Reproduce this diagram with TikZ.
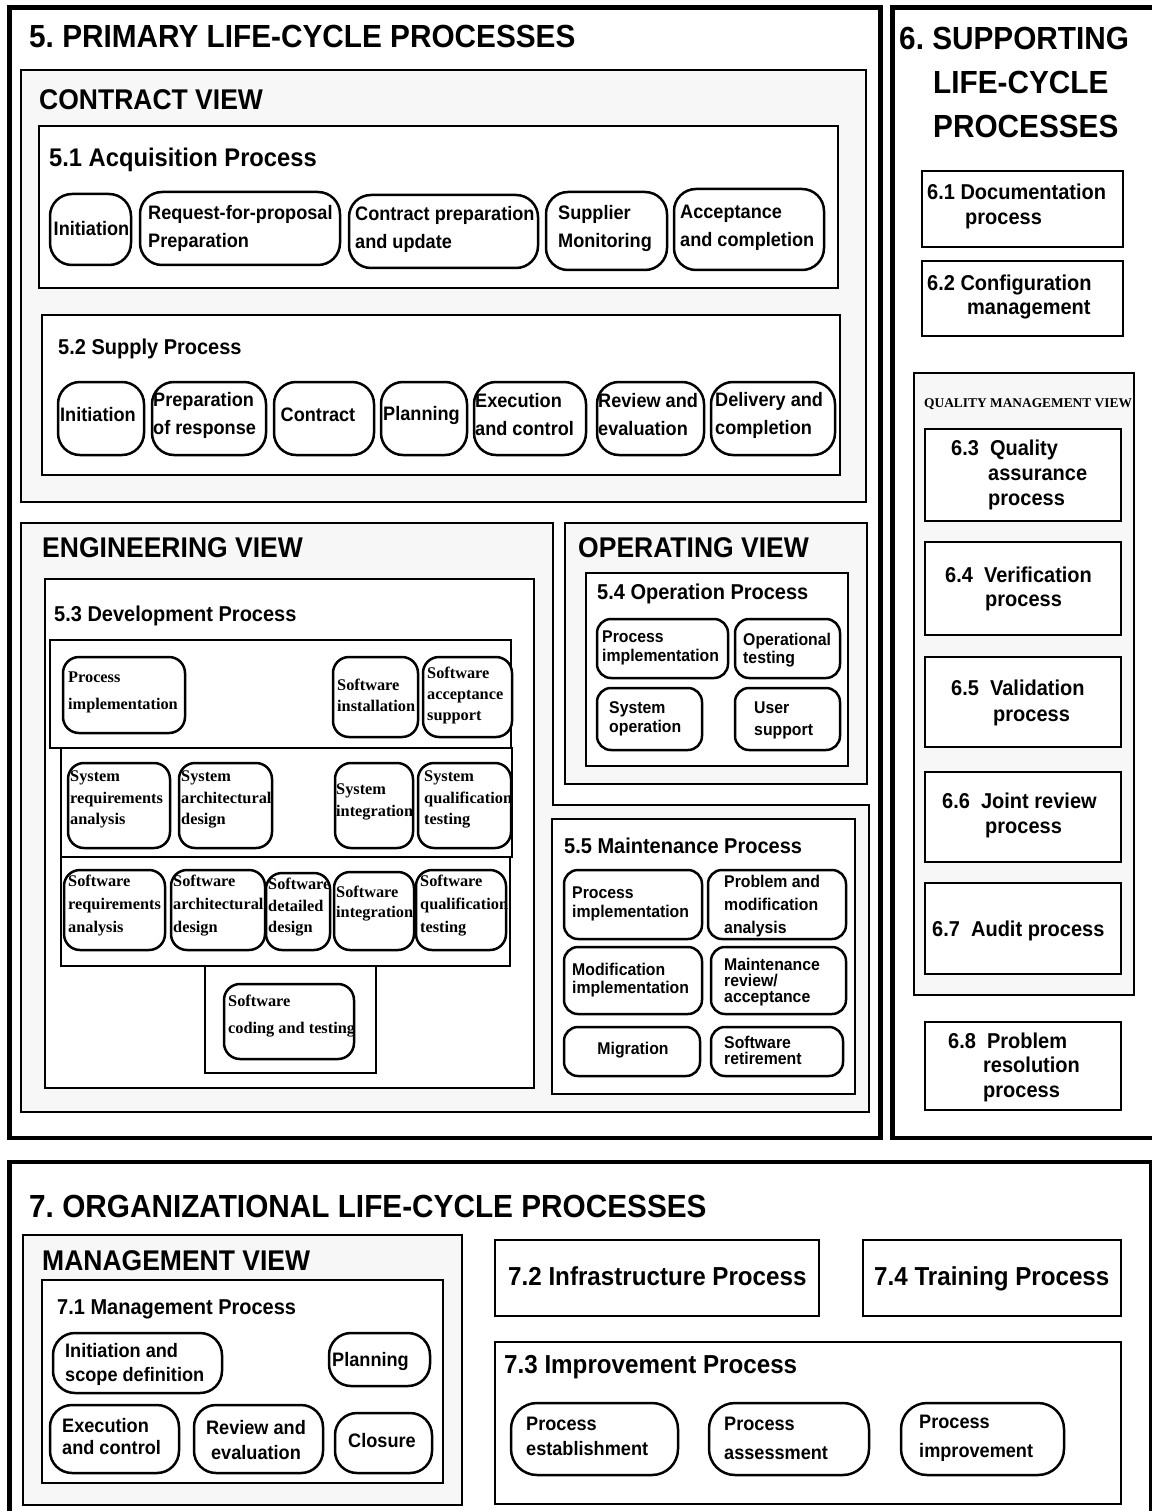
\documentclass[tikz,border=0pt]{standalone}
\usepackage{fontspec}
\newfontfamily\hvb{Liberation Sans}[FakeStretch=0.93]
\newfontfamily\tmb{Liberation Serif}
\frenchspacing
\newcommand\fsz[2]{\fontsize{#1}{#2}\selectfont}
\newcommand\BX[6]{\node[#6, inner sep=0pt, minimum width={#4-#2}, minimum height={#5-#3}] (#1) at ({(#2+#4)/2},{(#3+#5)/2}) {};}
\tikzset{
  outer/.style={draw, line width=4.5pt, fill=white},
  view/.style={draw, line width=2.5pt, fill=black!3},
  pbox/.style={draw, line width=2.5pt, fill=white},
  rbox/.style={draw, line width=2.5pt, fill=white, rounded corners=#1},
  rbox/.default=18pt,
  ttl/.style={anchor=base west, inner sep=0pt, font={\hvb\bfseries\fsz{32}{44}}},
  vtl/.style={anchor=base west, inner sep=0pt, font={\hvb\bfseries\fsz{28.5}{32}}},
  ptl/.style={anchor=base west, inner sep=0pt, font={\hvb\bfseries\fsz{21.5}{24.5}}},
  sxt/.style={anchor=west, inner sep=0pt, align=left, font={\hvb\bfseries\fsz{21.5}{#1}}},
  sxt/.default=24.5,
  nA/.style={anchor=west, inner sep=0pt, align=left, font={\hvb\bfseries\fsz{19.5}{#1}}},
  nA/.default=28,
  nB/.style={anchor=west, inner sep=0pt, align=left, font={\hvb\bfseries\fsz{17}{#1}}},
  nB/.default=19,
  nS/.style={anchor=west, inner sep=0pt, align=left, font={\tmb\bfseries\fsz{16.3}{#1}}},
  nS/.default=21.5,
}
\begin{document}
\begin{tikzpicture}[x=1pt, y=-1pt]
\useasboundingbox (0,0) rectangle (1151,1511);

% ---------- outer frames ----------
\BX{prim}{9.5}{7.5}{880.5}{1138}{outer}
\BX{supp}{892.5}{7.5}{1158}{1138}{outer}
\BX{org}{9.5}{1162}{1151.5}{1520}{outer}

% ---------- 5. primary ----------
\node[ttl] (t5) at (29,48) {5. PRIMARY LIFE-CYCLE PROCESSES};

% contract view
\BX{cv}{21}{70}{866}{502}{view}
\node[vtl] (tcv) at (39,110) {CONTRACT VIEW};
\BX{acq}{39}{126}{838}{288}{pbox}
\node[anchor=base west, inner sep=0pt, font={\hvb\bfseries\fsz{25.5}{28}}] (t51) at (49,167) {5.1 Acquisition Process};
\BX{a1}{50}{194}{131}{265}{rbox=22pt}
\BX{a2}{140}{192}{340}{265}{rbox=22pt}
\BX{a3}{349}{195}{538}{268}{rbox=22pt}
\BX{a4}{546}{192}{667}{270}{rbox=22pt}
\BX{a5}{674}{189}{824}{270}{rbox=22pt}
\node[nA, anchor=center] (a1t) at (91.5,229) {Initiation};
\node[nA] (a2t) at (148,228) {Request-for-proposal\\Preparation};
\node[nA] (a3t) at (355,229) {Contract preparation\\and update};
\node[nA] (a4t) at (558,229) {Supplier\\Monitoring};
\node[nA] (a5t) at (680,228) {Acceptance\\and completion};

\BX{sp}{42}{315}{840}{475}{pbox}
\node[ptl] (t52) at (58,354) {5.2 Supply Process};
\BX{s1}{58}{382}{144}{455}{rbox=22pt}
\BX{s2}{152}{382}{266}{455}{rbox=22pt}
\BX{s3}{274}{382}{374}{455}{rbox=22pt}
\BX{s4}{381}{382}{467}{455}{rbox=22pt}
\BX{s5}{474}{382}{586}{455}{rbox=22pt}
\BX{s6}{597}{382}{704}{455}{rbox=22pt}
\BX{s7}{711}{382}{835}{455}{rbox=22pt}
\node[nA] (s1t) at (60,415) {Initiation};
\node[nA] (s2t) at (153,415) {Preparation\\of response};
\node[nA, anchor=center] (s3t) at (318,415) {Contract};
\node[nA] (s4t) at (383,415) {Planning};
\node[nA] (s5t) at (475,415) {Execution\\and control};
\node[nA] (s6t) at (598,415) {Review and\\evaluation};
\node[nA] (s7t) at (715,415) {Delivery and\\completion};

% engineering view
\draw[view] (21,523) -- (553,523) -- (553,805) -- (869,805) -- (869,1112) -- (21,1112) -- cycle;
\node[vtl] (tev) at (42,557) {ENGINEERING VIEW};
\BX{dev}{45}{579}{534}{1088}{pbox}
\node[ptl] (t53) at (54,621) {5.3 Development Process};
\BX{r1}{50}{640}{511}{748}{pbox}
\BX{r2}{61}{748}{512}{857}{pbox}
\BX{r3}{61}{857}{510}{966}{pbox}
\BX{rc}{205}{966}{376}{1073}{pbox}
\BX{d1}{63}{657}{185}{733}{rbox=16pt}
\BX{d2}{333}{657}{418}{737}{rbox=16pt}
\BX{d3}{423}{657}{512}{737}{rbox=16pt}
\BX{d4}{68}{763}{170}{848}{rbox=16pt}
\BX{d5}{179}{763}{272}{848}{rbox=16pt}
\BX{d6}{335}{763}{413}{848}{rbox=16pt}
\BX{d7}{418}{763}{511}{848}{rbox=16pt}
\BX{d8}{64}{870}{165}{950}{rbox=16pt}
\BX{d9}{171}{870}{265}{950}{rbox=16pt}
\BX{d10}{266}{873}{330}{950}{rbox=16pt}
\BX{d11}{334}{872}{414}{950}{rbox=16pt}
\BX{d12}{416}{870}{506}{950}{rbox=16pt}
\BX{d13}{224}{984}{354}{1059}{rbox=16pt}
\node[nS=27] (d1t) at (68,692.5) {Process\\implementation};
\node[nS=21] (d2t) at (337,695.5) {Software\\installation};
\node[nS=21] (d3t) at (427,695) {Software\\acceptance\\support};
\node[nS] (d4t) at (70,799.5) {System\\requirements\\analysis};
\node[nS] (d5t) at (181,799.5) {System\\architectural\\design};
\node[nS=22] (d6t) at (336,802) {System\\integration};
\node[nS] (d7t) at (424,799.5) {System\\qualification\\testing};
\node[nS=23] (d8t) at (68,906) {Software\\requirements\\analysis};
\node[nS=23] (d9t) at (173,906) {Software\\architectural\\design};
\node[nS] (d10t) at (268,907.5) {Software\\detailed\\design};
\node[nS=20] (d11t) at (336,904) {Software\\integration};
\node[nS=23] (d12t) at (420,906) {Software\\qualification\\testing};
\node[nS=27] (d13t) at (228,1016.5) {Software\\coding and testing};

% operating view
\BX{ov}{565}{523}{867}{784}{view}
\node[vtl] (tov) at (578,557) {OPERATING VIEW};
\BX{opp}{586}{573}{848}{766}{pbox}
\node[ptl] (t54) at (597,599) {5.4 Operation Process};
\BX{o1}{597}{619}{728}{678}{rbox=14pt}
\BX{o2}{735}{619}{840}{678}{rbox=14pt}
\BX{o3}{597}{688}{702}{750}{rbox=14pt}
\BX{o4}{735}{688}{840}{750}{rbox=14pt}
\node[nB] (o1t) at (602,648) {Process\\implementation};
\node[nB=18] (o2t) at (743,650) {Operational\\testing};
\node[nB] (o3t) at (609,718.5) {System\\operation};
\node[nB=22] (o4t) at (754,720) {User\\support};

% maintenance
\BX{mnp}{552}{819}{855}{1094}{pbox}
\node[ptl] (t55) at (564,853) {5.5 Maintenance Process};
\BX{m1}{564}{870}{702}{939}{rbox=14pt}
\BX{m2}{708}{870}{846}{939}{rbox=14pt}
\BX{m3}{564}{947}{702}{1014}{rbox=14pt}
\BX{m4}{711}{947}{846}{1014}{rbox=14pt}
\BX{m5}{564}{1027}{700}{1076}{rbox=14pt}
\BX{m6}{711}{1027}{843}{1076}{rbox=14pt}
\node[nB] (m1t) at (572,903.5) {Process\\implementation};
\node[nB=23] (m2t) at (724,906) {Problem and\\modification\\analysis};
\node[nB=18] (m3t) at (572,980) {Modification\\implementation};
\node[nB=16] (m4t) at (724,982) {Maintenance\\review/\\acceptance};
\node[nB, anchor=center] (m5t) at (633,1050) {Migration};
\node[nB=15.5] (m6t) at (724,1050.5) {Software\\retirement};

% ---------- 6. supporting ----------
\node[anchor=west, inner sep=0pt, align=left, font={\hvb\bfseries\fsz{32}{44}}] (t6) at (899,82.5)
  {6. SUPPORTING\\\hspace*{34pt}LIFE-CYCLE\\\hspace*{34pt}PROCESSES};
\BX{b61}{922}{171}{1123}{247}{pbox}
\node[sxt=25] (t61) at (927,206) {6.1 Documentation\\\hspace*{38pt}process};
\BX{b62}{922}{261}{1123}{336}{pbox}
\node[sxt=24] (t62) at (927,296.5) {6.2 Configuration\\\hspace*{40pt}management};
\BX{qmv}{914}{373}{1134}{995}{view}
\node[anchor=base west, inner sep=0pt, font={\tmb\bfseries\fsz{13.4}{15}}] (tq) at (924,407) {QUALITY MANAGEMENT VIEW};
\BX{b63}{925}{429}{1121}{521}{pbox}
\node[sxt=25] (t63) at (951,474.5) {6.3\ \ Quality\\\hspace*{37pt}assurance\\\hspace*{37pt}process};
\BX{b64}{925}{542}{1121}{635}{pbox}
\node[sxt=23.5] (t64) at (945,589) {6.4\ \ Verification\\\hspace*{40pt}process};
\BX{b65}{925}{657}{1121}{747}{pbox}
\node[sxt=26] (t65) at (951,702.5) {6.5\ \ Validation\\\hspace*{42pt}process};
\BX{b66}{925}{772}{1121}{862}{pbox}
\node[sxt=25] (t66) at (942,815) {6.6\ \ Joint review\\\hspace*{43pt}process};
\BX{b67}{925}{883}{1121}{974}{pbox}
\node[ptl] (t67) at (932,936) {6.7\ \ Audit process};
\BX{b68}{925}{1022}{1121}{1110}{pbox}
\node[sxt=24.5] (t68) at (948,1067) {6.8\ \ Problem\\\hspace*{35pt}resolution\\\hspace*{35pt}process};

% ---------- 7. organizational ----------
\node[ttl] (t7) at (29,1217) {7. ORGANIZATIONAL LIFE-CYCLE PROCESSES};
\BX{mv}{23}{1235}{462}{1505}{view}
\node[vtl] (tmv) at (42,1270) {MANAGEMENT VIEW};
\BX{b71}{42}{1280}{443}{1483}{pbox}
\node[ptl] (t71) at (57,1314) {7.1 Management Process};
\BX{n1}{53}{1333}{222}{1393}{rbox=22pt}
\BX{n2}{329}{1333}{430}{1386}{rbox=22pt}
\BX{n3}{50}{1405}{179}{1473}{rbox=22pt}
\BX{n4}{194}{1405}{323}{1473}{rbox=22pt}
\BX{n5}{335}{1413}{432}{1473}{rbox=22pt}
\node[nA=24] (n1t) at (65,1364) {Initiation and\\scope definition};
\node[nA] (n2t) at (332,1361) {Planning};
\node[nA=22] (n3t) at (62,1437) {Execution\\and control};
\node[nA=25, anchor=center, align=center] (n4t) at (256,1440.5) {Review and\\evaluation};
\node[nA, anchor=center] (n5t) at (382,1441) {Closure};

\BX{b72}{495}{1240}{819}{1316}{pbox}
\node[anchor=base west, inner sep=0pt, font={\hvb\bfseries\fsz{26}{30}}] (t72) at (508,1285) {7.2 Infrastructure Process};
\BX{b74}{863}{1240}{1121}{1316}{pbox}
\node[anchor=base west, inner sep=0pt, font={\hvb\bfseries\fsz{26}{30}}] (t74) at (874,1285) {7.4 Training Process};
\BX{b73}{495}{1342}{1121}{1504}{pbox}
\node[anchor=base west, inner sep=0pt, font={\hvb\bfseries\fsz{26}{30}}] (t73) at (504,1373) {7.3 Improvement Process};
\BX{p1}{511}{1403}{678}{1475}{rbox=26pt}
\BX{p2}{709}{1403}{869}{1475}{rbox=26pt}
\BX{p3}{901}{1403}{1064}{1475}{rbox=26pt}
\node[nA=25] (p1t) at (526,1436.5) {Process\\establishment};
\node[nA=29] (p2t) at (724,1438.5) {Process\\assessment};
\node[nA=29] (p3t) at (919,1438.5) {Process\\improvement};
\end{tikzpicture}
\end{document}
